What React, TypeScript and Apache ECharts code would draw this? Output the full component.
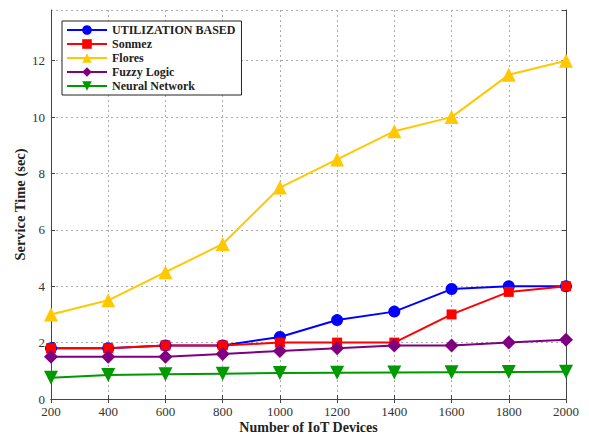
import React, { useEffect, useRef } from "react";
import * as echarts from "echarts";

const categories = [200, 400, 600, 800, 1000, 1200, 1400, 1600, 1800, 2000];
const utilization = [1.8, 1.8, 1.9, 1.9, 2.2, 2.8, 3.1, 3.9, 4.0, 4.0];
const sonmez = [1.8, 1.8, 1.9, 1.9, 2.0, 2.0, 2.0, 3.0, 3.8, 4.0];
const flores = [3.0, 3.5, 4.5, 5.5, 7.5, 8.5, 9.5, 10.0, 11.5, 12.0];
const fuzzy = [1.5, 1.5, 1.5, 1.6, 1.7, 1.8, 1.9, 1.9, 2.0, 2.1];
const neural = [0.75, 0.85, 0.88, 0.9, 0.92, 0.93, 0.94, 0.95, 0.96, 0.97];

const FONT = "Liberation Serif";

export default function App() {
  const ref = useRef<HTMLDivElement>(null);
  useEffect(() => {
    if (!ref.current) return;
    const chart = echarts.init(ref.current, null, { renderer: "svg" });
    const pair = (arr: number[]) => arr.map((v, i) => [categories[i], v]);
    const mk = (name: string, data: number[], color: string, symbol: string, size: number, rotate = 0) => ({
      name,
      type: "line",
      data: pair(data),
      symbol,
      symbolSize: size,
      symbolRotate: rotate,
      lineStyle: { color, width: 2 },
      itemStyle: { color },
      z: 3,
    });
    const axisLine = { show: true, lineStyle: { color: "#444", width: 1 } };
    chart.setOption({
      animation: false,
      backgroundColor: "#fff",
      grid: { left: 51, right: 23, top: 10, bottom: 36, outerBoundsMode: "none", containLabel: false },
      legend: {
        orient: "vertical",
        left: 62,
        top: 21,
        itemWidth: 40,
        itemHeight: 12,
        itemGap: 2,
        padding: [3, 6, 3, 4],
        backgroundColor: "#fff",
        borderColor: "#222",
        borderWidth: 1,
        textStyle: { fontFamily: FONT, fontWeight: "bold", fontSize: 12, color: "#222" },
        data: ["UTILIZATION BASED", "Sonmez", "Flores", "Fuzzy Logic", "Neural Network"],
      },
      xAxis: [
        {
          type: "value",
          min: 200,
          max: 2000,
          interval: 200,
          name: "Number of IoT Devices",
          nameLocation: "middle",
          nameGap: 21,
          nameMoveOverlap: false,
          nameTextStyle: { fontFamily: FONT, fontWeight: "bold", fontSize: 14, color: "#222" },
          axisLine,
          axisTick: { inside: true, length: 4, lineStyle: { color: "#444" } },
          axisLabel: { fontFamily: FONT, fontSize: 13, color: "#333", margin: 6, formatter: (v: number) => String(v) },
          splitLine: { show: true, lineStyle: { color: "#aaa", type: [2, 3], width: 1 } },
        },
        {
          type: "value",
          position: "top",
          min: 200,
          max: 2000,
          interval: 200,
          axisLine,
          axisTick: { inside: true, length: 4, lineStyle: { color: "#444" } },
          axisLabel: { show: false },
          splitLine: { show: false },
        },
      ],
      yAxis: [
        {
          type: "value",
          min: 0,
          max: 13.8,
          interval: 2,
          name: "Service Time (sec)",
          nameLocation: "middle",
          nameGap: 24,
          nameMoveOverlap: false,
          nameTextStyle: { fontFamily: FONT, fontWeight: "bold", fontSize: 14.5, color: "#222" },
          axisLine,
          axisTick: { inside: true, length: 4, lineStyle: { color: "#444" } },
          axisLabel: { fontFamily: FONT, fontSize: 13, color: "#333", margin: 6, showMaxLabel: false },
          splitLine: { show: true, lineStyle: { color: "#aaa", type: [2, 3], width: 1 } },
        },
        {
          type: "value",
          position: "right",
          min: 0,
          max: 13.8,
          interval: 2,
          axisLine,
          axisTick: { inside: true, length: 4, lineStyle: { color: "#444" } },
          axisLabel: { show: false },
          splitLine: { show: false },
        },
      ],
      series: [
        mk("UTILIZATION BASED", utilization, "#0000ff", "circle", 12),
        mk("Sonmez", sonmez, "#ff0000", "rect", 10),
        mk("Flores", flores, "#ffc800", "triangle", 14),
        mk("Fuzzy Logic", fuzzy, "#7e0080", "diamond", 14),
        mk("Neural Network", neural, "#009900", "triangle", 14, 180),
      ],
    });
    return () => chart.dispose();
  }, []);
  return <div ref={ref} style={{ width: 589, height: 435, position: "absolute", left: 0, top: 0 }} />;
}
